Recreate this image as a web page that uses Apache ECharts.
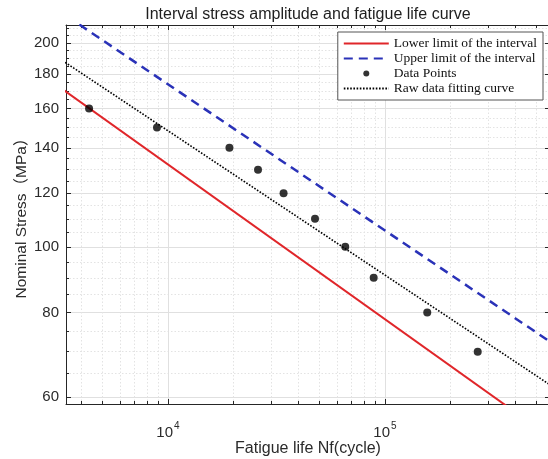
<!DOCTYPE html>
<html>
<head>
<meta charset="utf-8">
<script src="https://cdn.jsdelivr.net/npm/echarts@6/dist/echarts.min.js"></script>
<style>
  html, body { margin: 0; padding: 0; background: #fff; }
  #main { width: 548px; height: 459px; }
</style>
</head>
<body>
<div id="main"></div>
<script>
var myChart = echarts.init(document.getElementById("main"));

// data: [cycles, MPa]
var dataPoints = [
    [4330, 160], [8900, 150], [19200, 140], [26000, 130], [34100, 120],
    [47600, 110], [65600, 100], [88700, 90], [156600, 80], [267500, 70]
];
var lowerLimit = [[3000, 174.3], [600000, 51.9]];
var upperLimit = [[3000, 225.4], [600000, 71.8]];
var fitCurve = [[3000, 191.8], [600000, 62.0]];

// ticks
var xMajor = [10000, 100000];
var xMinor = [4000, 5000, 6000, 7000, 8000, 9000,
    20000, 30000, 40000, 50000, 60000, 70000, 80000, 90000,
    200000, 300000, 400000, 500000];
var yMajor = [60, 80, 100, 120, 140, 160, 180, 200];
var yMinor = [65, 70, 75, 85, 90, 95, 105, 110, 115, 125, 130, 135,
    145, 150, 155, 165, 170, 175, 185, 190, 195, 205, 210];

var xRange = [3390, 576000];
var yRange = [58.6, 212.6];

var sans = "'Liberation Sans', Arial, 'Noto Sans CJK SC', sans-serif";
var txt = "#2b2b2b";
var axisCol = "#262626";

function logAxis(pos, range, extra) {
    return Object.assign({
        type: "log",
        logBase: 10,
        position: pos,
        min: range[0],
        max: range[1],
        nameMoveOverlap: false,
        axisLine: { show: false, onZero: false },
        axisTick: { show: false },
        axisLabel: { show: false },
        splitLine: { show: false },
        minorTick: { show: false },
        minorSplitLine: { show: false },
    }, extra);
}

var minorGrid = { show: true, lineStyle: { color: "#e3e3e3", width: 1, type: [1.5, 2] } };
var majorGrid = { show: true, lineStyle: { color: "#e0e0e0", width: 1 } };

var option = {
    backgroundColor: "#fff",
    animation: false,
    grid: {
        left: 66,
        right: -2,
        top: 25,
        bottom: 55,
        containLabel: false,
        outerBoundsMode: "none",
    },
    legend: {
        orient: "vertical",
        right: 5,
        top: 32,
        backgroundColor: "#fff",
        borderColor: "#555",
        borderWidth: 1,
        padding: [4, 6, 4, 5],
        itemWidth: 45,
        itemHeight: 6,
        itemGap: 0,
        textStyle: {
            fontFamily: "'Liberation Serif', 'Times New Roman', serif",
            fontSize: 13.5,
            color: "#111",
            lineHeight: 15,
        },
        data: [
            { name: "Lower limit of the interval", itemStyle: { opacity: 0 } },
            { name: "Upper limit of the interval", itemStyle: { opacity: 0 } },
            { name: "Data Points" },
            { name: "Raw data fitting curve", itemStyle: { opacity: 0 } },
        ],
    },
    xAxis: [
        logAxis("bottom", xRange, {
            name: "Fatigue life Nf(cycle)",
            nameLocation: "middle",
            nameGap: 37,
            nameTextStyle: { fontFamily: sans, fontSize: 16, color: txt },
            axisLine: { show: true, onZero: false, lineStyle: { color: axisCol, width: 1 } },
            axisTick: { show: true, inside: true, length: 5, customValues: xMajor, lineStyle: { color: axisCol } },
            axisLabel: {
                show: true,
                margin: 16,
                customValues: xMajor,
                color: txt,
                fontFamily: sans,
                fontSize: 15,
                formatter: function (v) {
                    return "{b|10}{s|" + Math.round(Math.log10(v)) + "}";
                },
                rich: {
                    b: { fontFamily: sans, fontSize: 15, color: txt, lineHeight: 20, verticalAlign: "bottom" },
                    s: { fontFamily: sans, fontSize: 10, color: txt, lineHeight: 20, verticalAlign: "bottom", padding: [0, 0, 9, 1] },
                },
            },
            splitLine: majorGrid,
        }),
        logAxis("bottom", xRange, {
            axisTick: { show: true, inside: true, length: 3, customValues: xMinor, lineStyle: { color: axisCol } },
            splitLine: minorGrid,
        }),
        logAxis("top", xRange, {
            name: "Interval stress amplitude and fatigue life curve",
            nameLocation: "middle",
            nameGap: 2,
            nameTextStyle: { fontFamily: sans, fontSize: 16, color: "#1e1e1e" },
            axisLine: { show: true, onZero: false, lineStyle: { color: axisCol, width: 1 } },
            axisTick: { show: true, inside: true, length: 5, customValues: xMajor, lineStyle: { color: axisCol } },
        }),
        logAxis("top", xRange, {
            axisTick: { show: true, inside: true, length: 3, customValues: xMinor, lineStyle: { color: axisCol } },
        }),
    ],
    yAxis: [
        logAxis("left", yRange, {
            name: "Nominal Stress（MPa）",
            nameLocation: "middle",
            nameGap: 37,
            nameTextStyle: { fontFamily: sans, fontSize: 15.5, color: txt },
            axisLine: { show: true, onZero: false, lineStyle: { color: axisCol, width: 1 } },
            axisTick: { show: true, inside: true, length: 5, customValues: yMajor, lineStyle: { color: axisCol } },
            axisLabel: {
                show: true,
                margin: 7,
                customValues: yMajor,
                color: txt,
                fontFamily: sans,
                fontSize: 15,
                formatter: function (v) { return String(Math.round(v)); },
            },
            splitLine: majorGrid,
        }),
        logAxis("left", yRange, {
            axisTick: { show: true, inside: true, length: 3, customValues: yMinor, lineStyle: { color: axisCol } },
            splitLine: minorGrid,
        }),
        logAxis("right", yRange, {
            axisLine: { show: true, onZero: false, lineStyle: { color: axisCol, width: 1 } },
            axisTick: { show: true, inside: true, length: 5, customValues: yMajor, lineStyle: { color: axisCol } },
        }),
    ],
    series: [
        {
            name: "Lower limit of the interval",
            type: "line",
            data: lowerLimit,
            xAxisIndex: 0,
            yAxisIndex: 0,
            symbol: "none",
            clip: true,
            lineStyle: { color: "#e0262a", width: 2 },
            itemStyle: { color: "#e0262a" },
            z: 3,
        },
        {
            name: "Upper limit of the interval",
            type: "line",
            data: upperLimit,
            xAxisIndex: 0,
            yAxisIndex: 0,
            symbol: "none",
            clip: true,
            lineStyle: { color: "#2a32b8", width: 2.5, type: [9, 6] },
            itemStyle: { color: "#2a32b8" },
            z: 3,
        },
        {
            name: "Data Points",
            type: "scatter",
            data: dataPoints,
            xAxisIndex: 0,
            yAxisIndex: 0,
            symbol: "circle",
            symbolSize: 8,
            itemStyle: { color: "#000" },
            z: 5,
        },
        {
            name: "Raw data fitting curve",
            type: "line",
            data: fitCurve,
            xAxisIndex: 0,
            yAxisIndex: 0,
            symbol: "none",
            clip: true,
            lineStyle: { color: "#000", width: 1.6, type: [1.6, 1.6] },
            itemStyle: { color: "#000" },
            z: 4,
        },
    ],
};

myChart.setOption(option);
</script>
</body>
</html>
